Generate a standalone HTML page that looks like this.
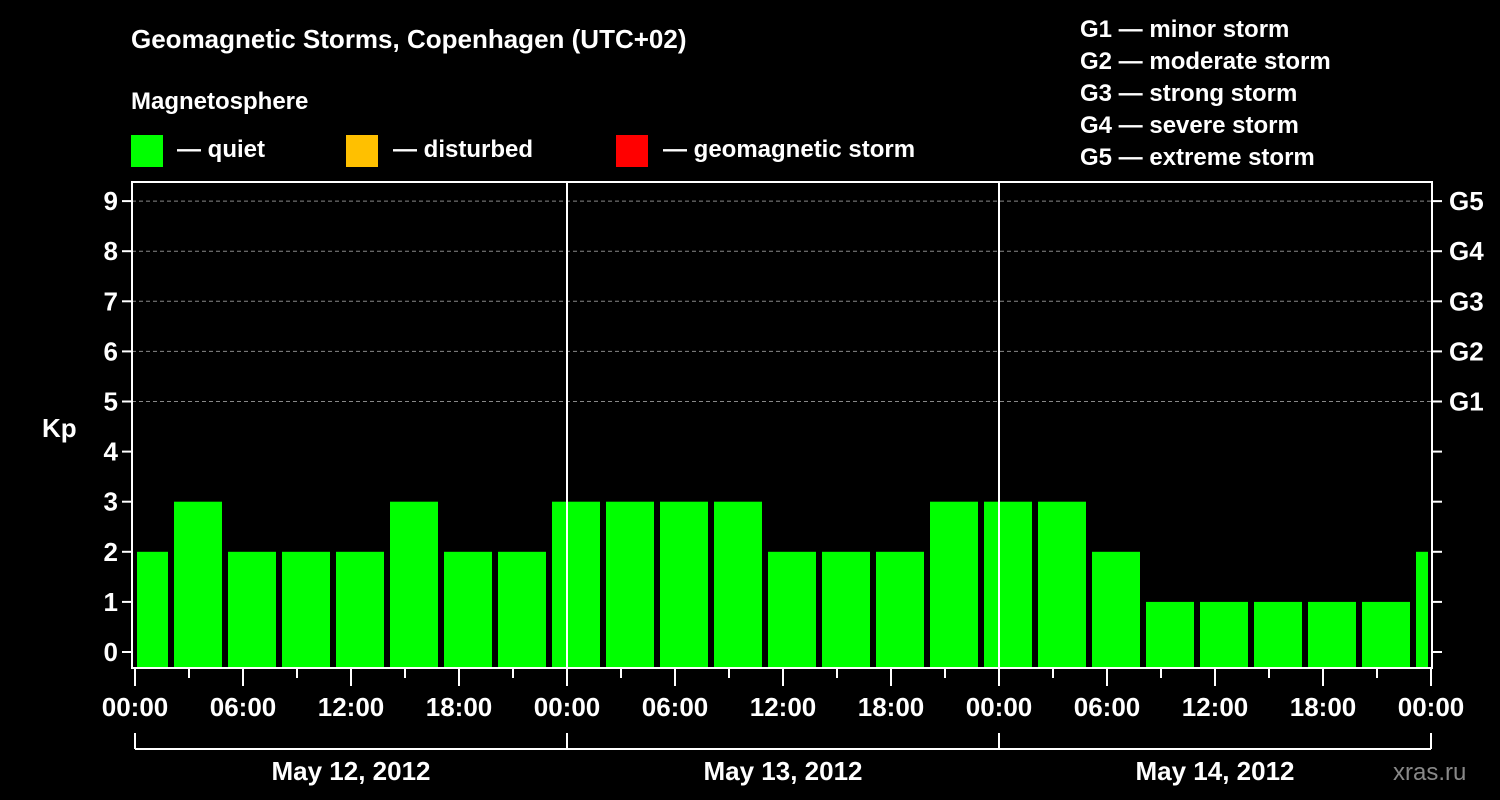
<!DOCTYPE html>
<html><head><meta charset="utf-8"><style>
body{margin:0;background:#000;}
svg{display:block;font-family:"Liberation Sans",sans-serif;font-weight:bold;}
</style></head><body>
<svg id="chart" width="1500" height="800" viewBox="0 0 1500 800">
<rect width="1500" height="800" fill="#000"/>
<text x="131" y="48" fill="#fff" font-size="26">Geomagnetic Storms, Copenhagen (UTC+02)</text>
<text x="131" y="109" fill="#fff" font-size="24">Magnetosphere</text>
<g><rect x="131" y="135" width="32" height="32" fill="#00ff00"/><text x="177" y="157" fill="#fff" font-size="24">— quiet</text></g>
<g><rect x="346" y="135" width="32" height="32" fill="#ffc000"/><text x="393" y="157" fill="#fff" font-size="24">— disturbed</text></g>
<g><rect x="616" y="135" width="32" height="32" fill="#ff0000"/><text x="663" y="157" fill="#fff" font-size="24">— geomagnetic storm</text></g>
<g fill="#fff" font-size="24">
<text x="1080" y="37">G1 — minor storm</text>
<text x="1080" y="69">G2 — moderate storm</text>
<text x="1080" y="101">G3 — strong storm</text>
<text x="1080" y="133">G4 — severe storm</text>
<text x="1080" y="165">G5 — extreme storm</text>
</g>
<text x="42" y="437" fill="#fff" font-size="26">Kp</text>
<text x="1393" y="780" fill="#888" font-size="24" font-weight="normal">xras.ru</text>
<g id="plot"></g>
</svg>
<script>
const kpValues=[2,3,2,2,2,3,2,2,3,3,3,3,2,2,2,3,3,3,2,1,1,1,1,1,2];
const binStartHours=[-1,2,5,8,11,14,17,20,23,26,29,32,35,38,41,44,47,50,53,56,59,62,65,68,71];
const xTickLabels=["00:00","06:00","12:00","18:00","00:00","06:00","12:00","18:00","00:00","06:00","12:00","18:00","00:00"];
const dayLabels=["May 12, 2012","May 13, 2012","May 14, 2012"];
const yTicks=[0,1,2,3,4,5,6,7,8,9];
const gLabels=["G1","G2","G3","G4","G5"];
const NS="http://www.w3.org/2000/svg";
const g=document.getElementById('plot');
const X0=135,PXH=18,Y0=652,PXK=50.1,L=132,R=1432,T=182,B=668;
const x=h=>X0+h*PXH, y=k=>Y0-k*PXK;
function mk(t,a){const e=document.createElementNS(NS,t);for(const k in a)e.setAttribute(k,a[k]);g.appendChild(e);return e;}
// grid
yTicks.forEach(k=>{if(k>=5){const e=mk('line',{x1:L,x2:R,y1:y(k),y2:y(k),stroke:'#888','stroke-dasharray':'4,3','stroke-width':1});

}});
// bars
kpValues.forEach((v,i)=>{const s=Math.max(0,binStartHours[i]),e2=Math.min(72,binStartHours[i]+3);
const x1=x(s)+(s===binStartHours[i]?3:2),x2=x(e2)-(e2===binStartHours[i]+3?3:3);
const r=mk('rect',{x:x1,y:y(v),width:x2-x1,height:B-1-y(v),fill:v>=5?'#ff0000':(v>=4?'#ffc000':'#00ff00')});

});
// day separators
[1,2].forEach(d=>{const e=mk('line',{x1:x(24*d),x2:x(24*d),y1:T,y2:B,stroke:'#fff','stroke-width':2});

});
// frame
const f=mk('rect',{x:L,y:T,width:R-L,height:B-T,fill:'none',stroke:'#fff','stroke-width':2});


// y ticks & labels
yTicks.forEach(k=>{
const t1=mk('line',{x1:L-10,x2:L,y1:y(k),y2:y(k),stroke:'#fff','stroke-width':2});


const t2=mk('line',{x1:R,x2:R+10,y1:y(k),y2:y(k),stroke:'#fff','stroke-width':2});


const tx=mk('text',{x:L-14,y:y(k)+9,fill:'#fff','font-size':26,'text-anchor':'end'});tx.textContent=k;


if(k>=5){const gl=mk('text',{x:R+17,y:y(k)+9,fill:'#fff','font-size':26});gl.textContent=gLabels[k-5];

}
});
// x ticks
for(let h=0;h<=72;h+=3){const maj=h%6===0;
const t=mk('line',{x1:x(h),x2:x(h),y1:B,y2:B+(maj?18:10),stroke:'#fff','stroke-width':2});

}
xTickLabels.forEach((s,i)=>{const tx=mk('text',{x:x(i*6),y:716,fill:'#fff','font-size':26,'text-anchor':'middle'});tx.textContent=s;

});
// day bracket
const bl=mk('line',{x1:x(0),x2:x(72),y1:749,y2:749,stroke:'#fff','stroke-width':2});


for(let d=0;d<=3;d++){const t=mk('line',{x1:x(24*d),x2:x(24*d),y1:733,y2:749,stroke:'#fff','stroke-width':2});

}
dayLabels.forEach((s,i)=>{const tx=mk('text',{x:x(24*i+12),y:780,fill:'#fff','font-size':26,'text-anchor':'middle'});tx.textContent=s;

});
</script>
</body></html>
